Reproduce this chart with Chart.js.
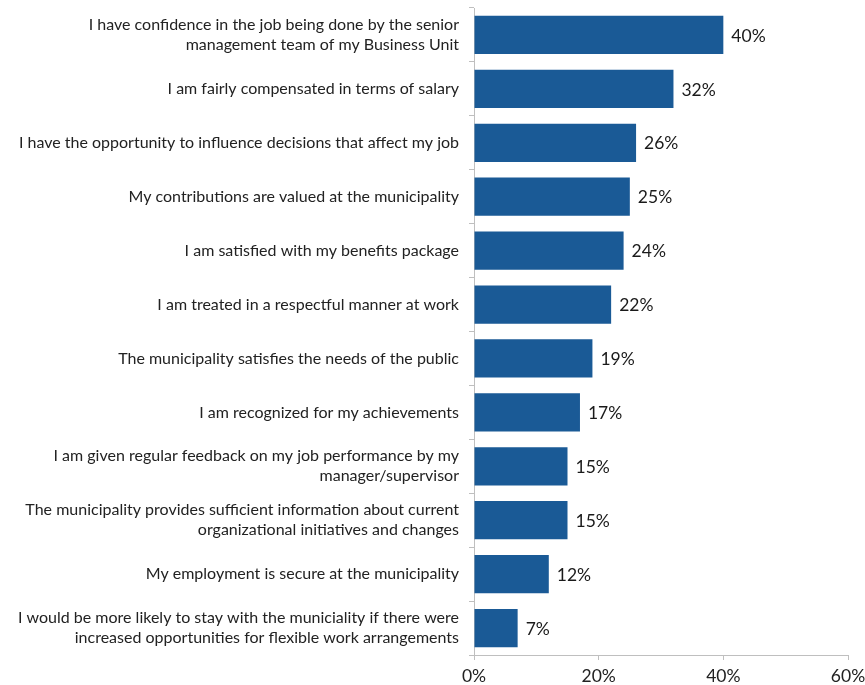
<!DOCTYPE html>
<html>
<head>
<meta charset="utf-8">
<script src="https://cdn.jsdelivr.net/npm/chart.js@4/dist/chart.umd.min.js"></script>
<style>
  html, body { margin: 0; padding: 0; background: #fff; }
  #wrap { width: 865px; height: 685px; }
</style>
</head>
<body>
<div id="wrap"><canvas id="myChart" width="865" height="685"></canvas></div>
<script>
// survey statements (top to bottom) and share agreeing, in %
var statements = [
    ['I have confidence in the job being done by the senior', 'management team of my Business Unit'],
    'I am fairly compensated in terms of salary',
    'I have the opportunity to influence decisions that affect my job',
    'My contributions are valued at the municipality',
    'I am satisfied with my benefits package',
    'I am treated in a respectful manner at work',
    'The municipality satisfies the needs of the public',
    'I am recognized for my achievements',
    ['I am given regular feedback on my job performance by my', 'manager/supervisor'],
    ['The municipality provides sufficient information about current', 'organizational initiatives and changes'],
    'My employment is secure at the municipality',
    ['I would be more likely to stay with the municiality if there were', 'increased opportunities for flexible work arrangements']
];
var agreePct = [40, 32, 26, 25, 24, 22, 19, 17, 15, 15, 12, 7];
var xTicks = [0, 20, 40, 60];

var fontFam = 'Lato, "Open Sans", sans-serif';

// writes the percentage just past the end of each bar
var barValues = {
    id: 'barValues',
    afterDatasetsDraw: function(chart) {
        var ctx = chart.ctx;
        var meta = chart.getDatasetMeta(0);
        ctx.save();
        ctx.font = '17.5px ' + fontFam;
        ctx.fillStyle = '#1a1a1a';
        ctx.textAlign = 'left';
        ctx.textBaseline = 'middle';
        meta.data.forEach(function(bar, i) {
            ctx.fillText(agreePct[i] + '%', bar.x + 8, bar.y + 1);
        });
        ctx.restore();
    }
};

var ctx = document.getElementById('myChart').getContext('2d');
var myChart = new Chart(ctx, {
    type: 'bar',
    data: {
        labels: statements,
        datasets: [{
            data: agreePct,
            backgroundColor: '#1a5a96',
            borderWidth: 0,
            barPercentage: 0.71,
            categoryPercentage: 1
        }]
    },
    options: {
        indexAxis: 'y',
        responsive: false,
        devicePixelRatio: 1,
        animation: false,
        layout: { padding: { top: 8, right: 17, left: 0, bottom: 0 } },
        plugins: {
            legend: { display: false },
            tooltip: { enabled: false }
        },
        scales: {
            x: {
                min: 0,
                max: 60,
                afterBuildTicks: function(scale) {
                    scale.ticks = xTicks.map(function(v) { return { value: v }; });
                },
                afterFit: function(scale) {
                    scale.height = 30;
                    scale.paddingLeft = 0;
                    scale.paddingRight = 0;
                },
                ticks: {
                    callback: function(v) { return v + '%'; },
                    color: '#222',
                    font: { family: fontFam, size: 17.5 },
                    padding: 6
                },
                grid: { drawOnChartArea: false, drawTicks: true, tickLength: 5, color: '#bfbfbf' },
                border: { color: '#bfbfbf' }
            },
            y: {
                afterFit: function(scale) {
                    scale.width = 474;
                    scale.paddingTop = 0;
                    scale.paddingBottom = 0;
                },
                ticks: {
                    color: '#222',
                    font: { family: fontFam, size: 16, lineHeight: 1.25 },
                    padding: 10,
                    crossAlign: 'near'
                },
                grid: { drawOnChartArea: false, drawTicks: true, tickLength: 5, offset: true, color: '#bfbfbf' },
                border: { color: '#bfbfbf' }
            }
        }
    },
    plugins: [barValues]
});
</script>
</body>
</html>
